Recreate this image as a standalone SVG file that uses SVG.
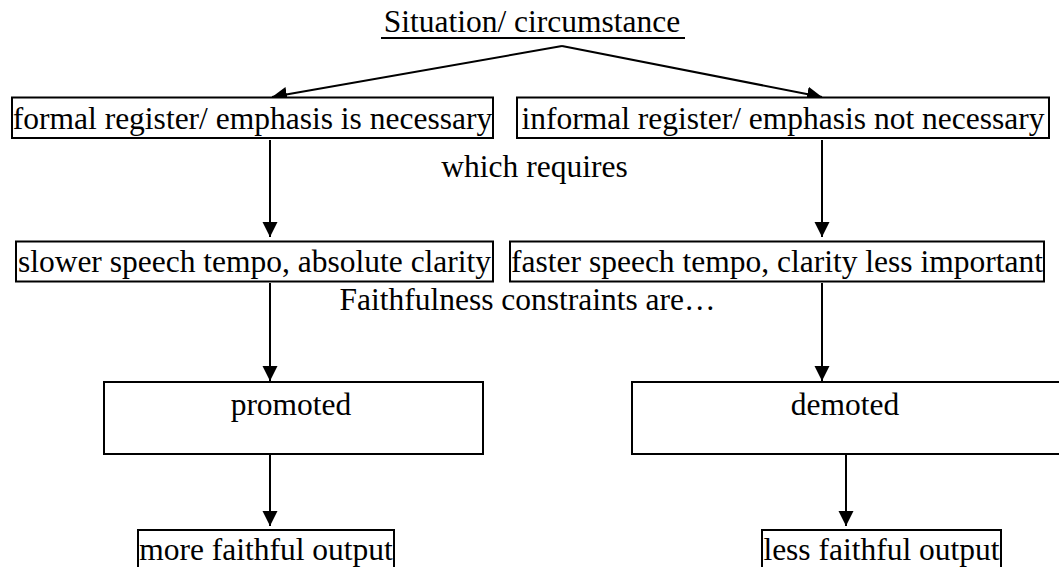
<svg xmlns="http://www.w3.org/2000/svg" width="1059" height="567" viewBox="0 0 1059 567">
<style>
text{font-family:"Liberation Serif","Times New Roman",serif;font-size:31.5px;fill:#000;text-anchor:middle}
.box{fill:#fff;stroke:#000;stroke-width:2}
.conn{stroke:#000;stroke-width:2;fill:none}
</style>
<defs>
<marker id="ah" markerUnits="userSpaceOnUse" markerWidth="16" markerHeight="16" refX="15" refY="7.5" orient="auto">
<path d="M0,0 L15,7.5 L0,15 z" fill="#000"/>
</marker>
</defs>
<rect width="1059" height="567" fill="#fff"/>
<g id="connectors">
<line class="conn" x1="562" y1="46" x2="272" y2="97" marker-end="url(#ah)"/>
<line class="conn" x1="562" y1="46" x2="822" y2="97" marker-end="url(#ah)"/>
<line class="conn" x1="270" y1="140" x2="270" y2="237" marker-end="url(#ah)"/>
<line class="conn" x1="822" y1="140" x2="822" y2="237" marker-end="url(#ah)"/>
<line class="conn" x1="270" y1="283" x2="270" y2="381" marker-end="url(#ah)"/>
<line class="conn" x1="822" y1="283" x2="822" y2="381" marker-end="url(#ah)"/>
<line class="conn" x1="270" y1="455" x2="270" y2="526" marker-end="url(#ah)"/>
<line class="conn" x1="846" y1="455" x2="846" y2="526" marker-end="url(#ah)"/>
</g>
<g id="title">
<text x="532" y="32">Situation/ circumstance</text>
<line x1="381" y1="38" x2="685" y2="38" stroke="#000" stroke-width="2"/>
</g>
<g id="formal">
<rect class="box" x="12" y="97.5" width="481" height="40.5"/>
<text x="252.5" y="129">formal register/ emphasis is necessary</text>
</g>
<g id="informal">
<rect class="box" x="517" y="97.5" width="532" height="40.5"/>
<text x="783" y="129">informal register/ emphasis not necessary</text>
</g>
<g id="which-requires">
<text x="534.5" y="177">which requires</text>
</g>
<g id="slower">
<rect class="box" x="16" y="241.5" width="477" height="40"/>
<text x="254.5" y="272">slower speech tempo, absolute clarity</text>
</g>
<g id="faster">
<rect class="box" x="510" y="241.5" width="534" height="40"/>
<text x="777" y="272">faster speech tempo, clarity less important</text>
</g>
<g id="faithfulness">
<text x="527.5" y="310">Faithfulness constraints are…</text>
</g>
<g id="promoted">
<rect class="box" x="104" y="382" width="379" height="72"/>
<text x="291" y="415">promoted</text>
</g>
<g id="demoted">
<rect class="box" x="632" y="382" width="430" height="72"/>
<text x="845" y="415">demoted</text>
</g>
<g id="more-faithful">
<rect class="box" x="138" y="530" width="256" height="45"/>
<text x="266" y="560">more faithful output</text>
</g>
<g id="less-faithful">
<rect class="box" x="762" y="530" width="239" height="45"/>
<text x="881.5" y="560">less faithful output</text>
</g>
</svg>
